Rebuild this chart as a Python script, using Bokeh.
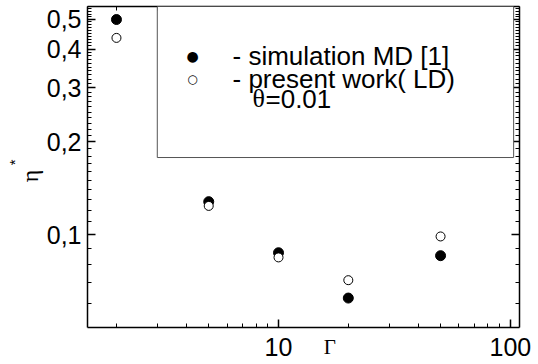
from bokeh.plotting import figure
from bokeh.models import (LogAxis, FixedTicker, CustomJSTickFormatter, Label,
                          BoxAnnotation, Title)
from bokeh.embed import file_html
from bokeh.resources import INLINE

# ---- data ----
gamma = [2, 5, 10, 20, 50]
eta_md = [0.499, 0.128, 0.0874, 0.0623, 0.0855]   # simulation MD [1]
eta_ld = [0.435, 0.124, 0.0844, 0.0712, 0.0987]   # present work (LD)

x_major = [10, 100]
x_minor = [2, 3, 4, 5, 6, 7, 8, 9, 20, 30, 40, 50, 60, 70, 80, 90]
y_major = [0.1, 0.2, 0.3, 0.4, 0.5]
y_minor = [0.06, 0.07, 0.08, 0.09] + [round(0.11 + 0.01 * i, 2) for i in range(9)] \
          + [round(0.21 + 0.01 * i, 2) for i in range(35) if round(0.21 + 0.01 * i, 2) not in (0.3, 0.4, 0.5)]

legend_labels = ["- simulation MD [1]", "- present work( LD)"]
theta_sym, theta_val = "\u03b8", "=0.01"
x_title = "\u0393"
y_title = "\u03b7"
y_title_sup = "*"

W, H = 536, 364
FL, FB = 87, 327          # frame left / bottom in page pixels
p = figure(width=W, height=H, x_axis_type="log", y_axis_type="log",
           x_range=(1.5, 109.5), y_range=(0.05, 0.55),
           output_backend="svg", toolbar_location=None,
           min_border_left=FL, min_border_right=W - FL - 432,
           min_border_top=6, min_border_bottom=H - FB)
p.outline_line_color = None
p.background_fill_color = "white"
p.border_fill_color = "white"
p.xgrid.visible = False
p.ygrid.visible = False

xfmt = CustomJSTickFormatter(code="return tick.toFixed(0)")
yfmt = CustomJSTickFormatter(code="return tick.toFixed(1).replace('.', ',')")
nofmt = CustomJSTickFormatter(code="return ''")


def style(ax, labels=True):
    ax.axis_line_width = 1.5
    ax.axis_line_color = "black"
    ax.major_tick_in = 8
    ax.major_tick_out = 0
    ax.minor_tick_in = 4
    ax.minor_tick_out = 0
    ax.major_tick_line_width = 1.5
    ax.minor_tick_line_width = 1
    ax.major_tick_line_color = "black"
    ax.minor_tick_line_color = "black"
    ax.major_label_text_font = "Liberation Sans"
    ax.major_label_text_font_size = "25px"
    ax.major_label_text_color = "black"
    if not labels:
        ax.major_label_standoff = 0


xa = p.xaxis[0]
xa.ticker = FixedTicker(ticks=x_major, minor_ticks=x_minor)
xa.formatter = xfmt
xa.major_label_standoff = 10
style(xa)
# axis title, nudged right of centre with no-break spaces
xa.axis_label = "\u00a0" * 10 + x_title
xa.axis_label_text_font = "Liberation Serif"
xa.axis_label_text_font_size = "21px"
xa.axis_label_text_font_style = "normal"
xa.axis_label_text_color = "black"
xa.axis_label_standoff = -24

ya = p.yaxis[0]
ya.ticker = FixedTicker(ticks=y_major, minor_ticks=y_minor)
ya.formatter = yfmt
ya.major_label_standoff = 6
style(ya)
ya.axis_label = y_title + "\u00a0" * 3
ya.axis_label_text_font = "Liberation Serif"
ya.axis_label_text_font_size = "24px"
ya.axis_label_text_font_style = "normal"
ya.axis_label_text_color = "black"
ya.axis_label_standoff = 1

# superscript star of the y title
star = Title(text=y_title_sup, align="right", vertical_align="bottom", offset=153,
             text_font="Liberation Sans", text_font_size="15px",
             text_font_style="normal", text_color="black", standoff=-19)
p.add_layout(star, "left")

top = LogAxis(ticker=FixedTicker(ticks=x_major, minor_ticks=x_minor), formatter=nofmt)
style(top, labels=False)
p.add_layout(top, "above")
right = LogAxis(ticker=FixedTicker(ticks=y_major, minor_ticks=y_minor), formatter=nofmt)
style(right, labels=False)
p.add_layout(right, "right")

# data
p.scatter(gamma, eta_md, size=10, marker="circle", fill_color="black", line_color="black")
p.scatter(gamma, eta_ld, size=9, marker="circle", fill_color="white", line_color="black", line_width=1)

# legend box
box = BoxAnnotation(left=3.0, right=103.3, bottom=0.178,
                    fill_color="white", fill_alpha=1.0,
                    line_color="#555555", line_width=1, line_alpha=1.0)
p.add_layout(box)


# screen units are relative to the frame's bottom-left corner
def fx(X):
    return X - FL


def fy(Y):
    return FB - Y


def lab(X, Y, txt, font, size, align="left"):
    p.add_layout(Label(x=fx(X), y=fy(Y), x_units="screen", y_units="screen", text=txt,
                       text_font=font, text_font_size=size, text_align=align,
                       text_baseline="middle", text_color="black"))


rows = [55, 78, 98]
lab(192, rows[0], "\u25cf", "DejaVu Sans", "14px", "center")
lab(192, rows[1], "\u25cb", "DejaVu Sans", "12px", "center")
for i, txt in enumerate(legend_labels):
    lab(232, rows[i], txt, "Liberation Sans", "26px")
lab(252, rows[2], theta_sym, "Liberation Serif", "26px")
lab(265, rows[2], theta_val, "Liberation Sans", "26px")

open("out.html", "w").write(file_html(p, INLINE))
